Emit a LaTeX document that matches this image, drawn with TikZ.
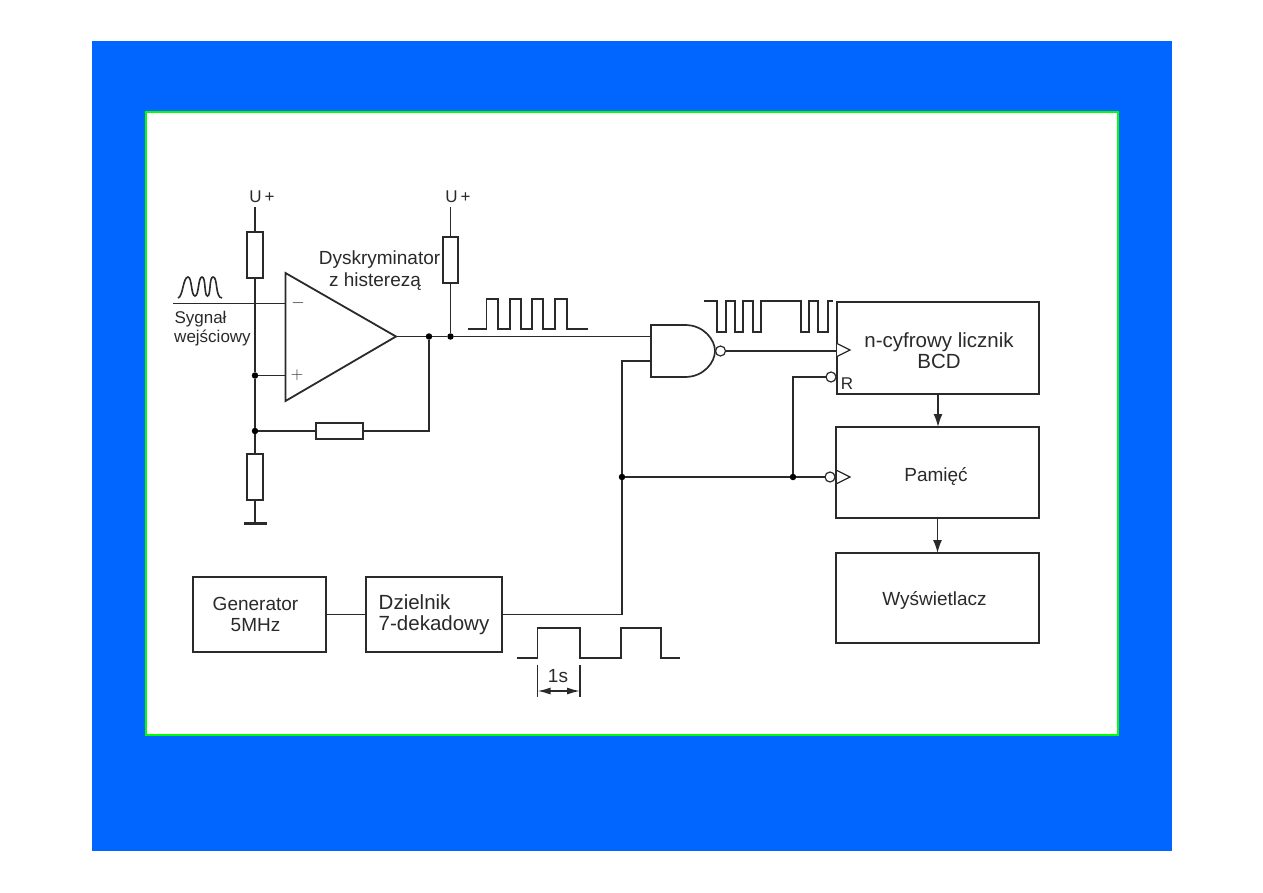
\documentclass[tikz,border=0pt]{standalone}
\usepackage{fontspec}
\setmainfont{Liberation Sans}
\usepackage{xcolor}
\usetikzlibrary{arrows.meta,positioning}
\definecolor{slideblue}{HTML}{0066FF}
\definecolor{framegreen}{HTML}{00FF00}
\definecolor{ink}{HTML}{2A2A2A}
\tikzset{
  wire/.style={draw=ink,line width=1.5pt},
  pulse/.style={draw=ink,line width=1.6pt},
  block/.style={draw=ink,line width=1.7pt,rectangle,inner sep=0pt,outer sep=0pt},
  res/.style={draw=ink,line width=1.7pt,rectangle,inner sep=0pt,outer sep=0pt,fill=white},
  dot/.style={circle,fill=black,inner sep=0pt,outer sep=0pt,minimum size=6.5pt},
  bubble/.style={circle,draw=ink,line width=1.2pt,fill=white,inner sep=0pt,outer sep=0pt,minimum size=10pt},
  txt/.style={text=ink,inner sep=0pt,font=\fontsize{19}{21}\selectfont},
  bigtxt/.style={text=ink,inner sep=0pt,font=\fontsize{20.5}{21}\selectfont},
  smalltxt/.style={text=ink,inner sep=0pt,font=\fontsize{17}{19}\selectfont},
}
\begin{document}
\begin{tikzpicture}[x=1pt,y=-1pt]
  \useasboundingbox (0,0) rectangle (1263,893);
  \fill[slideblue] (92,41) rectangle (1172,851);
  \draw[framegreen,line width=2pt,fill=white] (146,112) rectangle (1118,735);

  % comparator with its resistors
  \coordinate (optop) at (285.5,273);
  \coordinate (opbot) at (285.5,401);
  \coordinate (optip) at (396,336.5);
  \draw[draw=ink,line width=1.8pt,line join=miter] (optop) -- (optip) -- (opbot) -- cycle;
  \node[smalltxt] (minus) at (298,303.5) {$-$};
  \node[smalltxt] (plus) at (297,375.5) {$+$};

  \node[res,minimum width=16pt,minimum height=46pt] (rup) at (255,255) {};
  \node[res,minimum width=15pt,minimum height=46pt] (rout) at (450.5,260) {};
  \node[res,minimum width=47pt,minimum height=16pt] (rfb) at (339.5,431) {};
  \node[res,minimum width=16pt,minimum height=46pt] (rgnd) at (255,477) {};
  \node[smalltxt] (uleft) at (262,197) {U\,+};
  \node[smalltxt] (uright) at (458,197) {U\,+};
  \coordinate (uleftend) at (255,207);
  \coordinate (urightend) at (450.5,207);
  \coordinate (sigin) at (173,303.5);
  \coordinate (gnd) at (255,523);
  \node[dot] (dplus) at (255,375.5) {};
  \node[dot] (dfb) at (255,431) {};
  \node[dot] (dout1) at (429,336.5) {};
  \node[dot] (dout2) at (450.5,336.5) {};

  \draw[wire] (uleftend) -- (rup.north);
  \draw[wire] (rup.south) -- (dplus);
  \draw[wire] (dplus) -- (dfb);
  \draw[wire] (dfb) -- (rgnd.north);
  \draw[wire] (rgnd.south) -- (gnd);
  \draw[draw=ink,line width=3pt] (244,523) -- (267,523);
  \draw[wire] (urightend) -- (rout.north);
  \draw[wire] (rout.south) -- (dout2);
  \draw[wire] (sigin) -- (285.5,303.5);
  \draw[wire] (dplus) -- (285.5,375.5);
  \draw[wire] (dfb) -- (rfb.west);
  \draw[wire] (rfb.east) -| (dout1);
  \draw[wire] (optip) -- (dout1);
  \draw[wire] (dout1) -- (dout2);

  \node[smalltxt] (sigtop) at (200.5,319) {Sygnał};
  \node[smalltxt] (sigbot) at (212.5,338) {wejściowy};
  \node[txt] (disctop) at (379.5,260) {Dyskryminator};
  \node[txt] (discbot) at (375,282) {z histerezą};

  % gate
  \coordinate (nandtl) at (651,325);
  \coordinate (nandbl) at (651,377);
  \draw[draw=ink,line width=1.7pt] (nandtl) -- (685,325) .. controls (704,325) and (715,340) .. (715,351)
    .. controls (715,362) and (704,377) .. (685,377) -- (nandbl) -- cycle;
  \node[bubble] (nandout) at (720.5,351) {};
  \coordinate (nandin1) at (651,336.5);
  \coordinate (nandin2) at (651,361);

  % blocks
  \node[block,minimum width=202pt,minimum height=92pt] (counter) at (938,348) {};
  \node[block,minimum width=203pt,minimum height=91pt] (mem) at (937.5,472.5) {};
  \node[block,minimum width=203pt,minimum height=90pt] (disp) at (937.5,598) {};
  \node[block,minimum width=133pt,minimum height=75pt] (gen) at (259.5,614.5) {};
  \node[block,minimum width=136pt,minimum height=75pt] (div) at (434,614.5) {};
  \node[bigtxt,align=center] (countertxt) at (939,351) {n-cyfrowy licznik\\BCD};
  \node[txt] (memtxt) at (936,476) {Pamięć};
  \node[txt] (disptxt) at (934.5,600) {Wyświetlacz};
  \node[txt,align=center] (gentxt) at (255.5,614.5) {Generator\\5MHz};
  \node[bigtxt,align=left] (divtxt) at (434,614.5) {Dzielnik\\7-dekadowy};
  \node[smalltxt] (rlabel) at (847,384) {R};

  \foreach \y in {350,477}
    \draw[draw=ink,line width=1.2pt,fill=white] (837,\y-6.5) -- (850,\y) -- (837,\y+6.5);
  \node[bubble] (brst) at (831,377) {};
  \node[bubble] (bmem) at (830,477) {};
  \node[dot] (dgate) at (622,477) {};
  \node[dot] (dreset) at (793,477) {};

  \draw[wire] (dout2) -- (nandin1);
  \draw[wire] (nandout) -- (837,351);
  \draw[wire] (dgate) |- (nandin2);
  \draw[wire] (div.east) -| (dgate);
  \draw[wire] (dgate) -- (dreset);
  \draw[wire] (dreset) -- (bmem);
  \draw[wire] (dreset) |- (brst);
  \draw[wire] (gen.east) -- (gen.east -| div.west);
  \draw[wire,-{Latex[length=13pt,width=9pt]}] (counter.south) -- (mem.north -| counter.south);
  \draw[wire,-{Latex[length=13pt,width=9pt]}] (mem.south) -- (disp.north);

  % waveforms
  \draw[draw=ink,line width=1.6pt] (178,298)
    .. controls (183,297) and (183,277) .. (188,277) .. controls (192,277) and (191,296) .. (195,296)
    .. controls (199,296) and (198,277) .. (202,277) .. controls (206,277) and (204,296) .. (207.5,296)
    .. controls (211,296) and (209,277) .. (213,277) .. controls (218,277) and (215,298) .. (222,298);
  \draw[pulse] (468,329) -- (486.5,329) -- (486.5,299) -- (498,299) -- (498,329) -- (510,329) -- (510,299)
    -- (521,299) -- (521,329) -- (532,329) -- (532,299) -- (543,299) -- (543,329) -- (555,329) -- (555,299)
    -- (567,299) -- (567,329) -- (588,329);
  \draw[pulse] (704,301) -- (717,301) -- (717,332) -- (726,332) -- (726,301) -- (735,301) -- (735,332)
    -- (743,332) -- (743,301) -- (753,301) -- (753,332) -- (761,332) -- (761,301) -- (801,301) -- (801,332)
    -- (809,332) -- (809,301) -- (818,301) -- (818,332) -- (828,332) -- (828,301) -- (833,301);
  \draw[pulse] (517,658) -- (537.5,658) -- (537.5,628) -- (580,628) -- (580,658) -- (621,658) -- (621,628)
    -- (661,628) -- (661,658) -- (680,658);

  % one second mark
  \coordinate (secl) at (537.5,691);
  \coordinate (secr) at (580,691);
  \draw[wire] (537.5,665) -- (537.5,697);
  \draw[wire] (580,665) -- (580,697);
  \draw[wire,{Latex[length=13pt,width=7pt]}-{Latex[length=13pt,width=7pt]}] (secl) -- (secr);
  \node[txt] (sec) at (558,676) {1s};
\end{tikzpicture}
\end{document}
